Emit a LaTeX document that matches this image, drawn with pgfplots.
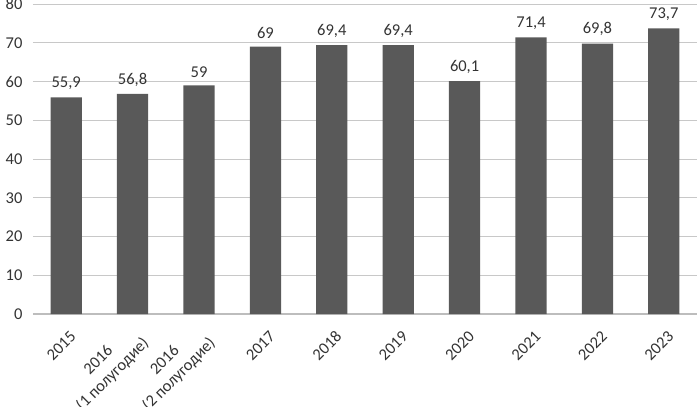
\documentclass[border=0pt]{standalone}
\usepackage{pgfplots}
\pgfplotsset{compat=1.18}
\usepackage{fontspec}
\setmainfont{Carlito}
\definecolor{barc}{HTML}{595959}
\definecolor{gridc}{HTML}{C8C8C8}
\definecolor{axc}{HTML}{BDBDBD}
\definecolor{txtc}{HTML}{333333}
\begin{document}
\begin{tikzpicture}
\begin{axis}[name=ax, scale only axis, width=664pt, height=310pt,
  xmin=-0.5, xmax=9.5, ymin=0, ymax=80,
  ytick={0,10,...,80},
  xtick={0,...,9},
  xticklabels={2015,{2016\\(1 полугодие)},{2016\\(2 полугодие)},2017,2018,2019,2020,2021,2022,2023},
  axis line style={draw=none},
  major tick length=0pt,
  ymajorgrids, grid style={draw=gridc, line width=0.8pt},
  extra y ticks={0}, extra y tick labels={},
  extra y tick style={grid style={draw=axc, line width=1.8pt}},
  /pgf/number format/assume math mode=true,
  /pgf/number format/use comma,
  tick label style={font=\fontsize{16.5}{20}\selectfont, text=txtc},
  xticklabel style={xshift=7pt, yshift=-20pt, rotate=45, anchor=east, align=center, inner sep=0pt},
  yticklabel style={xshift=-7pt},
  nodes near coords,
  every node near coord/.append style={font=\fontsize{16.5}{19}\selectfont, text=txtc, yshift=4pt},
]
\addplot[ybar, bar width=0.47, fill=barc, draw=none] coordinates {
(0,55.9) (1,56.8) (2,59) (3,69) (4,69.4) (5,69.4) (6,60.1) (7,71.4) (8,69.8) (9,73.7)};
\end{axis}
\pgfresetboundingbox
\path[use as bounding box] ([xshift=-33pt,yshift=-93pt]ax.south west) rectangle ([yshift=4pt]ax.north east);
\end{tikzpicture}
\end{document}
